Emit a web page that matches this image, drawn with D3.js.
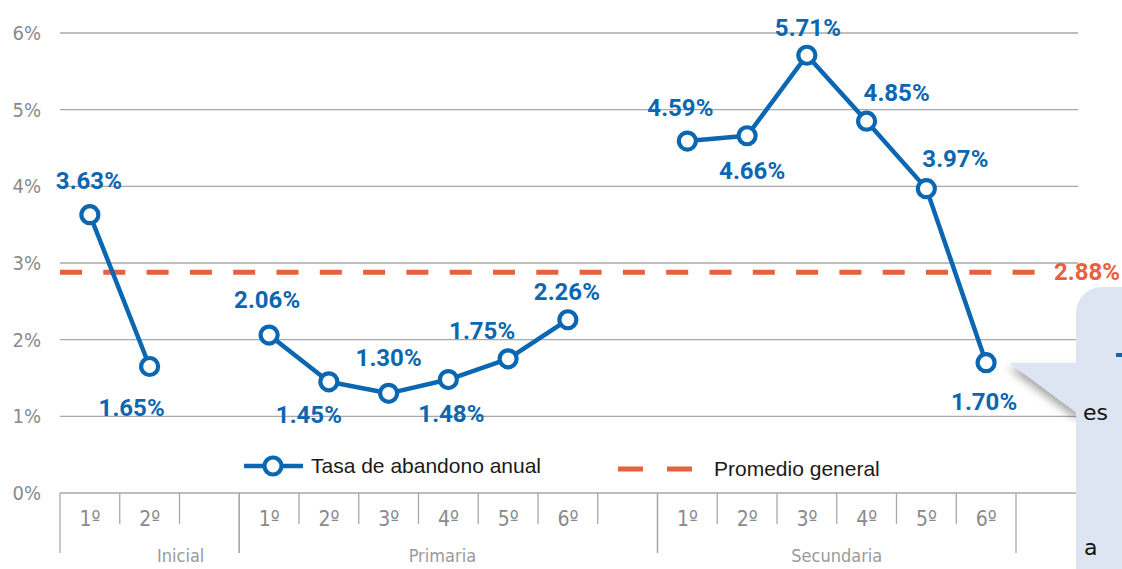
<!DOCTYPE html>
<html>
<head>
<meta charset="utf-8">
<script src="https://cdn.jsdelivr.net/npm/d3@7"></script>
<style>
  html, body { margin: 0; padding: 0; background: #fff; overflow: hidden; }
  svg { display: block; }
  .narrow { font-family: "DejaVu Sans Condensed", "Liberation Sans Narrow", "Roboto", sans-serif; font-stretch: condensed; }
  .val { font-family: "Roboto", "Liberation Sans", sans-serif; }
</style>
</head>
<body>
<script>
var width = 1122, height = 569;

// levels and grades (blank slot after Inicial and Primaria)
var levels = ["Inicial", "Primaria", "Secundaria"];
var inicialGrades = ["1º", "2º", ""];
var primariaGrades = ["1º", "2º", "3º", "4º", "5º", "6º", ""];
var secundariaGrades = ["1º", "2º", "3º", "4º", "5º", "6º"];

// Tasa de abandono anual (%)
var inicialValues = [3.63, 1.65];
var primariaValues = [2.06, 1.45, 1.30, 1.48, 1.75, 2.26];
var secundariaValues = [4.59, 4.66, 5.71, 4.85, 3.97, 1.70];

var promedioGeneral = 2.88;
var yTicks = [0, 1, 2, 3, 4, 5, 6];

// label placement around each point [dx, dy]
var labelOffsets = {
  Inicial: [[-1, -26], [-18, 49]],
  Primaria: [[-2, -27], [-20, 41], [0, -27], [3, 42], [-26, -20], [-1, -20]],
  Secundaria: [[-7, -25], [5, 43], [1, -19], [30, -20], [29, -22], [-2, 47]]
};
// level name shift from the centre of its span
var levelLabelDx = { Inicial: 31, Primaria: -6, Secundaria: 0 };

var blue = "#0b67b1", orange = "#e8613d", grid = "#a8a8a8", tickGray = "#8a8a8a";

var gradesByLevel = { Inicial: inicialGrades, Primaria: primariaGrades, Secundaria: secundariaGrades };
var valuesByLevel = { Inicial: inicialValues, Primaria: primariaValues, Secundaria: secundariaValues };

var slots = [];
levels.forEach(function(lv) {
  gradesByLevel[lv].forEach(function(g, i) {
    slots.push({ key: lv + "-" + i, level: lv, grade: g, index: i });
  });
});

var x = d3.scaleBand()
  .domain(slots.map(function(d) { return d.key; }))
  .range([60, 1016])
  .paddingInner(0).paddingOuter(0);

var y = d3.scaleLinear().domain([0, 6]).range([493, 33]);

var svg = d3.select("body").append("svg")
  .attr("width", width)
  .attr("height", height);

// gridlines
svg.append("g").selectAll("line")
  .data(yTicks.filter(function(d) { return d > 0; }))
  .enter().append("line")
  .attr("x1", 60).attr("x2", 1078)
  .attr("y1", function(d) { return y(d); })
  .attr("y2", function(d) { return y(d); })
  .attr("stroke", grid).attr("stroke-width", 1.3);

// y labels
svg.append("g").selectAll("text")
  .data(yTicks)
  .enter().append("text")
  .attr("class", "narrow")
  .attr("x", 41)
  .attr("y", function(d) { return y(d) + 7; })
  .attr("text-anchor", "end")
  .attr("font-size", 20)
  .attr("fill", tickGray)
  .text(function(d) { return d + "%"; });

// x axis baseline
svg.append("line")
  .attr("x1", 60).attr("x2", 1078)
  .attr("y1", y(0)).attr("y2", y(0))
  .attr("stroke", grid).attr("stroke-width", 1.3);

// grade ticks
var tickG = svg.append("g");
slots.forEach(function(d) {
  var right = x(d.key) + x.bandwidth();
  var isGroupEnd = d.index === gradesByLevel[d.level].length - 1;
  if (!isGroupEnd) {
    tickG.append("line")
      .attr("x1", right).attr("x2", right)
      .attr("y1", y(0)).attr("y2", y(0) + 31)
      .attr("stroke", grid).attr("stroke-width", 1.3);
  }
  tickG.append("text")
    .attr("class", "narrow")
    .attr("x", x(d.key) + x.bandwidth() / 2)
    .attr("y", y(0) + 33)
    .attr("text-anchor", "middle")
    .attr("font-size", 21)
    .attr("fill", tickGray)
    .text(d.grade);
});

// level separators and names
levels.forEach(function(lv) {
  var keys = slots.filter(function(d) { return d.level === lv; });
  var x0 = x(keys[0].key), x1 = x(keys[keys.length - 1].key) + x.bandwidth();
  [x0, x1].forEach(function(xx) {
    tickG.append("line")
      .attr("x1", xx).attr("x2", xx)
      .attr("y1", y(0)).attr("y2", y(0) + 60)
      .attr("stroke", grid).attr("stroke-width", 1.3);
  });
  tickG.append("text")
    .attr("class", "narrow")
    .attr("x", (x0 + x1) / 2 + levelLabelDx[lv])
    .attr("y", 562)
    .attr("text-anchor", "middle")
    .attr("font-size", 18)
    .attr("fill", "#9a9a9a")
    .text(lv);
});

// promedio general
svg.append("line")
  .attr("x1", 60).attr("x2", 1040)
  .attr("y1", y(promedioGeneral)).attr("y2", y(promedioGeneral))
  .attr("stroke", orange).attr("stroke-width", 5)
  .attr("stroke-dasharray", "22 21.3");

svg.append("text")
  .attr("class", "val")
  .attr("x", 1087)
  .attr("y", y(promedioGeneral) + 8)
  .attr("text-anchor", "middle")
  .attr("font-size", 24)
  .attr("font-weight", "bold")
  .attr("fill", orange)
  .text(promedioGeneral.toFixed(2) + "%");

// lines per level
var line = d3.line()
  .x(function(d) { return x(d.key) + x.bandwidth() / 2; })
  .y(function(d) { return y(d.value); });

levels.forEach(function(lv) {
  var pts = valuesByLevel[lv].map(function(v, i) {
    return { key: lv + "-" + i, value: v, off: labelOffsets[lv][i] };
  });
  var g = svg.append("g");
  g.append("path")
    .datum(pts)
    .attr("d", line)
    .attr("fill", "none")
    .attr("stroke", blue)
    .attr("stroke-width", 4.5)
    .attr("stroke-linejoin", "round");
  g.selectAll("circle")
    .data(pts)
    .enter().append("circle")
    .attr("cx", function(d) { return x(d.key) + x.bandwidth() / 2; })
    .attr("cy", function(d) { return y(d.value); })
    .attr("r", 8.5)
    .attr("fill", "#fff")
    .attr("stroke", blue)
    .attr("stroke-width", 4.2);
  g.selectAll("text")
    .data(pts)
    .enter().append("text")
    .attr("class", "val")
    .attr("x", function(d) { return x(d.key) + x.bandwidth() / 2 + d.off[0]; })
    .attr("y", function(d) { return y(d.value) + d.off[1]; })
    .attr("text-anchor", "middle")
    .attr("font-size", 24)
    .attr("font-weight", "bold")
    .attr("fill", blue)
    .text(function(d) { return d.value.toFixed(2) + "%"; });
});

// legend
var lg = svg.append("g");
lg.append("line")
  .attr("x1", 244).attr("x2", 303).attr("y1", 466).attr("y2", 466)
  .attr("stroke", blue).attr("stroke-width", 4.5);
lg.append("circle")
  .attr("cx", 273).attr("cy", 466).attr("r", 8.5)
  .attr("fill", "#fff").attr("stroke", blue).attr("stroke-width", 4.2);
lg.append("text")
  .attr("x", 311).attr("y", 473)
  .attr("font-family", "Liberation Sans, sans-serif")
  .attr("font-size", 21)
  .attr("fill", "#1a1a1a")
  .text("Tasa de abandono anual");
lg.append("line")
  .attr("x1", 618).attr("x2", 693).attr("y1", 469).attr("y2", 469)
  .attr("stroke", orange).attr("stroke-width", 5)
  .attr("stroke-dasharray", "25 24");
lg.append("text")
  .attr("x", 714).attr("y", 476)
  .attr("font-family", "Liberation Sans, sans-serif")
  .attr("font-size", 21)
  .attr("fill", "#1a1a1a")
  .text("Promedio general");

// callout box at right edge (partly outside the picture)
var defs = svg.append("defs");
var f = defs.append("filter").attr("id", "shadow").attr("x", "-20%").attr("y", "-20%").attr("width", "160%").attr("height", "160%");
f.append("feDropShadow").attr("dx", -2).attr("dy", 5).attr("stdDeviation", 4).attr("flood-color", "#000").attr("flood-opacity", 0.35);

var co = svg.append("g");
co.append("path")
  .attr("d", "M1010,363 L1090,363 L1090,412 L1076,412 Z")
  .attr("fill", "#dde5f3")
  .attr("filter", "url(#shadow)");
co.append("rect")
  .attr("x", 1076).attr("y", 287).attr("width", 90).attr("height", 320)
  .attr("rx", 26)
  .attr("fill", "#dde5f3");
co.append("path")
  .attr("d", "M1010,363 L1080,363 L1080,412 L1076,412 Z")
  .attr("fill", "#dde5f3");
co.append("rect")
  .attr("x", 1116).attr("y", 353).attr("width", 7).attr("height", 4)
  .attr("fill", blue);
co.append("text")
  .attr("x", 1083).attr("y", 420)
  .attr("font-family", "DejaVu Sans, sans-serif")
  .attr("font-size", 22)
  .attr("fill", "#111")
  .text("es");
co.append("text")
  .attr("x", 1084).attr("y", 555)
  .attr("font-family", "DejaVu Sans, sans-serif")
  .attr("font-size", 22)
  .attr("fill", "#111")
  .text("a");
</script>
</body>
</html>
